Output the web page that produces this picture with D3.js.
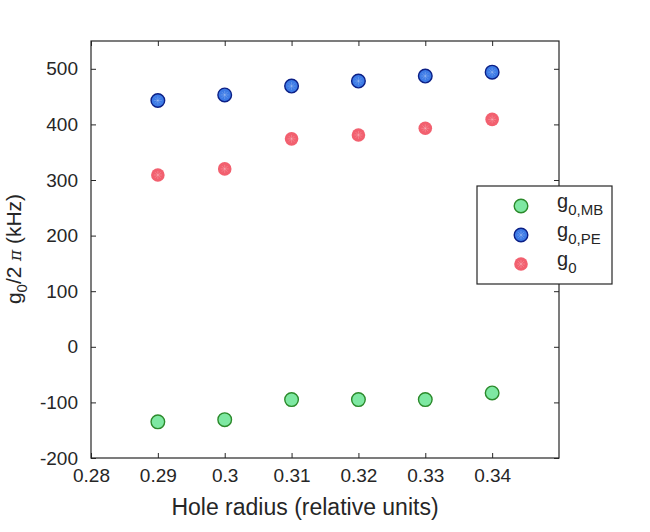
<!DOCTYPE html>
<html>
<head>
<meta charset="utf-8">
<script src="https://cdn.jsdelivr.net/npm/d3@7"></script>
<style>
  body { margin: 0; background: #fff; }
  svg text { font-family: "Liberation Sans", Arial, sans-serif; fill: #262626; }
</style>
</head>
<body>
<div id="chart"></div>
<script>
// hole radius values
var radius = [0.29, 0.30, 0.31, 0.32, 0.33, 0.34];
// coupling rates g0/2pi in kHz
var gMB = [-135, -131, -95, -95, -95, -83];
var gPE = [443, 453, 469, 478, 487, 494];
var g0 = [309, 320, 374, 381, 393, 409];

var xTicks = [0.28, 0.29, 0.30, 0.31, 0.32, 0.33, 0.34];
var yTicks = [-200, -100, 0, 100, 200, 300, 400, 500];

var series = [
  { key: "MB", label: "0,MB", values: gMB, fill: "#7ee8a2", stroke: "#2b8a2b" },
  { key: "PE", label: "0,PE", values: gPE, fill: "#3d7be6", stroke: "#0b1f86" },
  { key: "g0", label: "0", values: g0, fill: "#f2606f", stroke: "none" }
];

var width = 650, height = 532;
var margin = { left: 91, top: 41, right: 650 - 559, bottom: 532 - 458 };

var svg = d3.select("#chart").append("svg")
  .attr("width", width)
  .attr("height", height);

var x = d3.scaleLinear().domain([0.28, 0.35]).range([margin.left, width - margin.right]);
var y = d3.scaleLinear().domain([-200, 550]).range([height - margin.bottom, margin.top]);

var tickLen = 5;
var axisColor = "#262626";
var tickFont = 19;

// bottom axis, ticks pointing inward
var gx = svg.append("g")
  .attr("transform", "translate(0," + y.range()[0] + ")")
  .call(d3.axisBottom(x).tickValues(xTicks).tickSize(-tickLen).tickPadding(11)
    .tickFormat(function (d) { return String(+d.toFixed(2)); }));
gx.attr("font-size", tickFont).attr("font-family", null);
gx.select(".domain").remove();
gx.selectAll("line").attr("stroke", axisColor);
gx.selectAll("text").attr("fill", axisColor);

// top axis ticks
var gxt = svg.append("g")
  .attr("transform", "translate(0," + y.range()[1] + ")")
  .call(d3.axisTop(x).tickValues(xTicks).tickSize(-tickLen).tickFormat(""));
gxt.select(".domain").remove();
gxt.selectAll("line").attr("stroke", axisColor);

// left axis (plain hyphen for negatives, like the original)
var gy = svg.append("g")
  .attr("transform", "translate(" + x.range()[0] + ",0)")
  .call(d3.axisLeft(y).tickValues(yTicks).tickSize(-tickLen).tickPadding(13)
    .tickFormat(function (d) { return String(d); }));
gy.attr("font-size", tickFont).attr("font-family", null);
gy.select(".domain").remove();
gy.selectAll("line").attr("stroke", axisColor);
gy.selectAll("text").attr("fill", axisColor);

// right axis ticks
var gyr = svg.append("g")
  .attr("transform", "translate(" + x.range()[1] + ",0)")
  .call(d3.axisRight(y).tickValues(yTicks).tickSize(-tickLen).tickFormat(""));
gyr.select(".domain").remove();
gyr.selectAll("line").attr("stroke", axisColor);

// box
svg.append("rect")
  .attr("x", x.range()[0])
  .attr("y", y.range()[1])
  .attr("width", x.range()[1] - x.range()[0])
  .attr("height", y.range()[0] - y.range()[1])
  .attr("fill", "none")
  .attr("stroke", axisColor)
  .attr("stroke-width", 1.2);

// markers
function drawMarker(g, cx, cy, s) {
  g.append("circle")
    .attr("cx", cx).attr("cy", cy).attr("r", 6.8)
    .attr("fill", s.fill)
    .attr("stroke", s.stroke)
    .attr("stroke-width", 1.4);
  // faint asterisk inside the marker
  if (s.key !== "MB") {
    for (var a = 0; a < 4; a++) {
      var ang = a * Math.PI / 4;
      g.append("line")
        .attr("x1", cx - 4 * Math.cos(ang)).attr("y1", cy - 4 * Math.sin(ang))
        .attr("x2", cx + 4 * Math.cos(ang)).attr("y2", cy + 4 * Math.sin(ang))
        .attr("stroke", "#ffffff").attr("stroke-opacity", 0.25).attr("stroke-width", 0.8);
    }
  }
}

var plot = svg.append("g");
series.forEach(function (s) {
  s.values.forEach(function (v, i) {
    drawMarker(plot, x(radius[i]), y(v), s);
  });
});

// x label
svg.append("text")
  .attr("x", 305)
  .attr("y", 515)
  .attr("text-anchor", "middle")
  .attr("font-size", 23)
  .text("Hole radius (relative units)");

// y label
var yl = svg.append("text")
  .attr("transform", "translate(21,249) rotate(-90)")
  .attr("text-anchor", "middle")
  .attr("font-size", 21);
yl.append("tspan").text("g");
yl.append("tspan").attr("dy", 6).attr("font-size", 15).text("0");
yl.append("tspan").attr("dy", -6).text("/2");
yl.append("tspan").attr("font-family", "DejaVu Serif, serif").attr("font-style", "italic").attr("font-size", 17).text(" \u03c0");
yl.append("tspan").text(" (kHz)");

// legend
var lg = svg.append("g").attr("transform", "translate(477,186)");
lg.append("rect")
  .attr("width", 135).attr("height", 98)
  .attr("fill", "#fff")
  .attr("stroke", axisColor)
  .attr("stroke-width", 1.2);

series.forEach(function (s, i) {
  var cy = 20 + i * 29;
  drawMarker(lg, 44, cy, s);
  var t = lg.append("text")
    .attr("x", 80).attr("y", cy + 2)
    .attr("font-size", 20);
  t.append("tspan").text("g");
  t.append("tspan").attr("dy", 7).attr("font-size", 15).text(s.label);
});
</script>
</body>
</html>
